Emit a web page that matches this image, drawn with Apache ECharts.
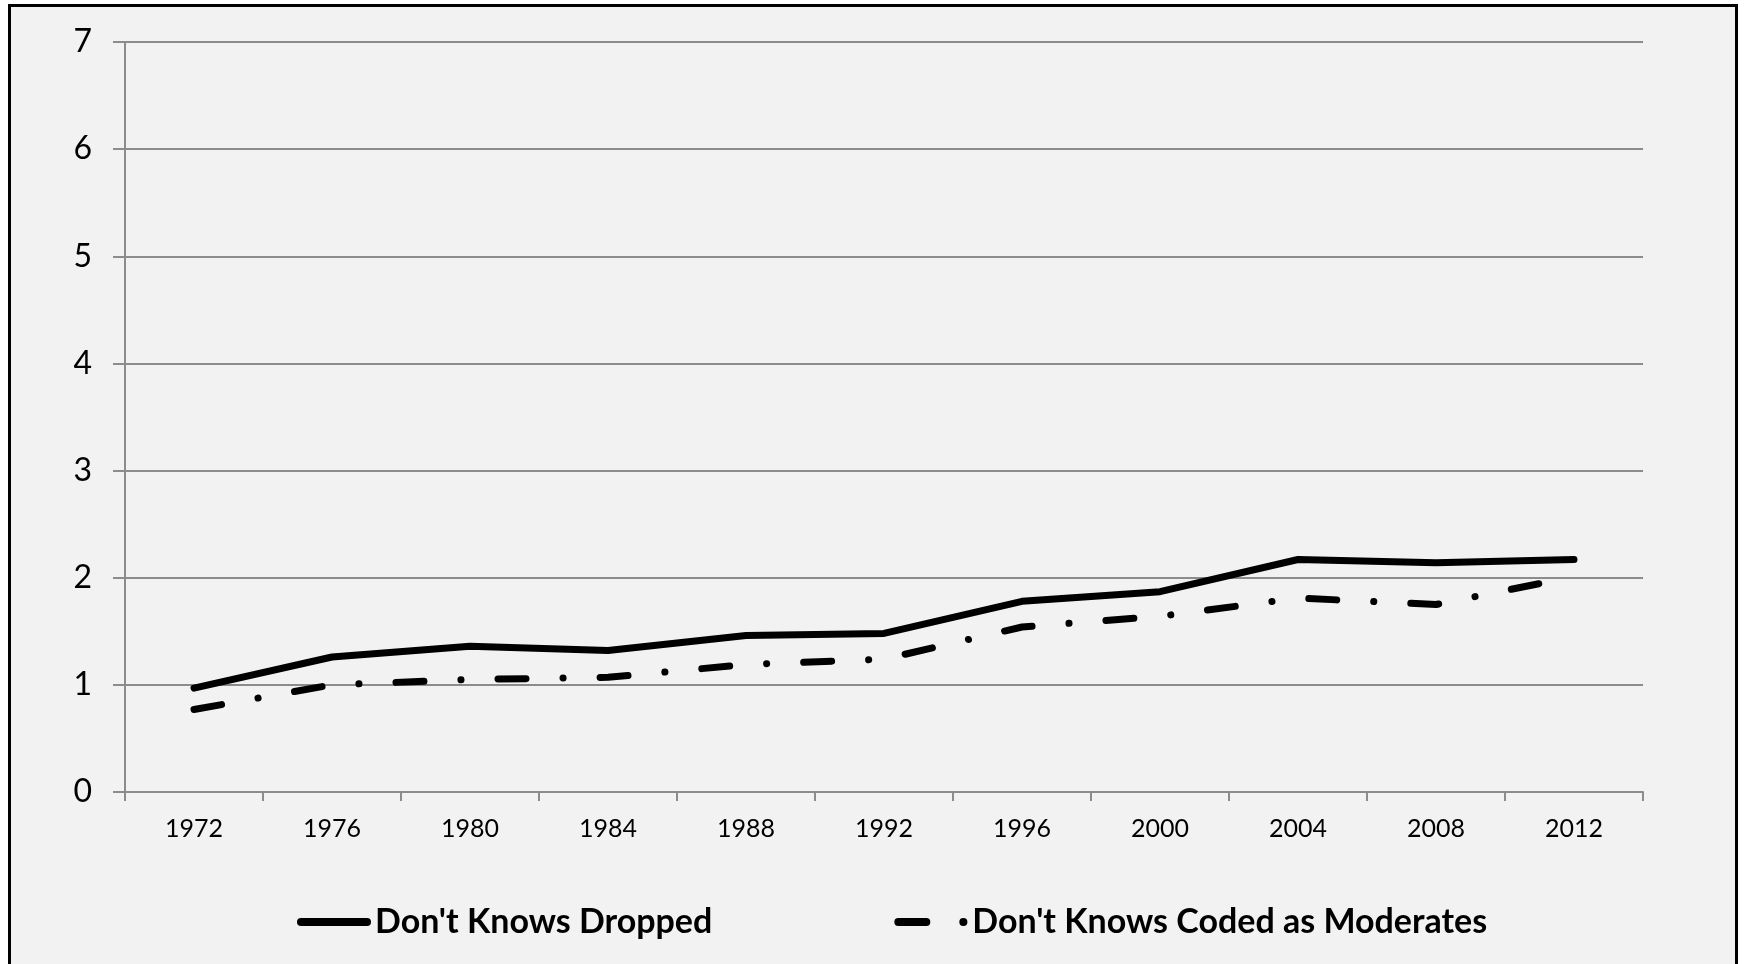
<!DOCTYPE html>
<html>
<head>
<meta charset="utf-8">
<script src="https://cdn.jsdelivr.net/npm/echarts@6/dist/echarts.min.js"></script>
<style>
html,body{margin:0;padding:0;background:#ffffff;}
#chart{width:1745px;height:964px;}
</style>
</head>
<body>
<div id="chart"></div>
<script>
const categories = ['1972','1976','1980','1984','1988','1992','1996','2000','2004','2008','2012'];
const dontKnowsDropped = [0.97, 1.26, 1.36, 1.32, 1.46, 1.48, 1.78, 1.87, 2.17, 2.14, 2.17];
const dontKnowsModerates = [0.77, 1.00, 1.05, 1.07, 1.19, 1.24, 1.54, 1.64, 1.81, 1.75, 2.01];
const seriesNames = ["Don't Knows Dropped", "Don't Knows Coded as Moderates"];
const yTicks = [0, 1, 2, 3, 4, 5, 6, 7];

const chart = echarts.init(document.getElementById('chart'), null, {renderer: 'canvas'});
const gridColor = '#8c8c8c';
chart.setOption({
  backgroundColor: '#ffffff',
  animation: false,
  graphic: [{
    type: 'rect',
    z: -10,
    silent: true,
    shape: {x: 9.5, y: 5.5, width: 1727, height: 1000},
    style: {fill: '#f2f2f2', stroke: '#000000', lineWidth: 3}
  }],
  grid: {left: 125, right: 102, top: 42, bottom: 172, containLabel: false},
  legend: {
    left: 297,
    top: 905,
    padding: 0,
    itemGap: 182,
    itemWidth: 66,
    itemHeight: 20,
    itemStyle: {opacity: 0, borderWidth: 0},
    textStyle: {fontFamily: 'Lato', fontWeight: 'bold', fontSize: 34, color: '#000', lineHeight: 34, padding: [0, 0, 0, 3]},
    lineStyle: {width: 8},
    data: seriesNames
  },
  xAxis: {
    type: 'category',
    data: categories,
    boundaryGap: true,
    axisLine: {show: true, lineStyle: {color: gridColor, width: 2}},
    axisTick: {show: true, length: 9, lineStyle: {color: gridColor, width: 2}},
    axisLabel: {fontFamily: 'Lato', fontSize: 25, color: '#000', margin: 24},
    splitLine: {show: false}
  },
  yAxis: {
    type: 'value',
    min: yTicks[0],
    max: yTicks[yTicks.length - 1],
    interval: 1,
    axisLine: {show: true, lineStyle: {color: gridColor, width: 2}},
    axisTick: {show: true, length: 12, lineStyle: {color: gridColor, width: 2}},
    axisLabel: {fontFamily: 'Lato', fontSize: 32, color: '#000', margin: 33},
    splitLine: {show: true, lineStyle: {color: gridColor, width: 2}}
  },
  series: [
    {
      name: seriesNames[0],
      type: 'line',
      data: dontKnowsDropped,
      showSymbol: false,
      symbol: 'none',
      lineStyle: {color: '#000', width: 7, cap: 'round', join: 'round'},
      itemStyle: {color: '#000'}
    },
    {
      name: seriesNames[1],
      type: 'line',
      data: dontKnowsModerates,
      showSymbol: false,
      symbol: 'none',
      lineStyle: {color: '#000', width: 7, type: [28, 37, 0.1, 37], cap: 'round', join: 'round'},
      itemStyle: {color: '#000'}
    }
  ]
});
</script>
</body>
</html>
